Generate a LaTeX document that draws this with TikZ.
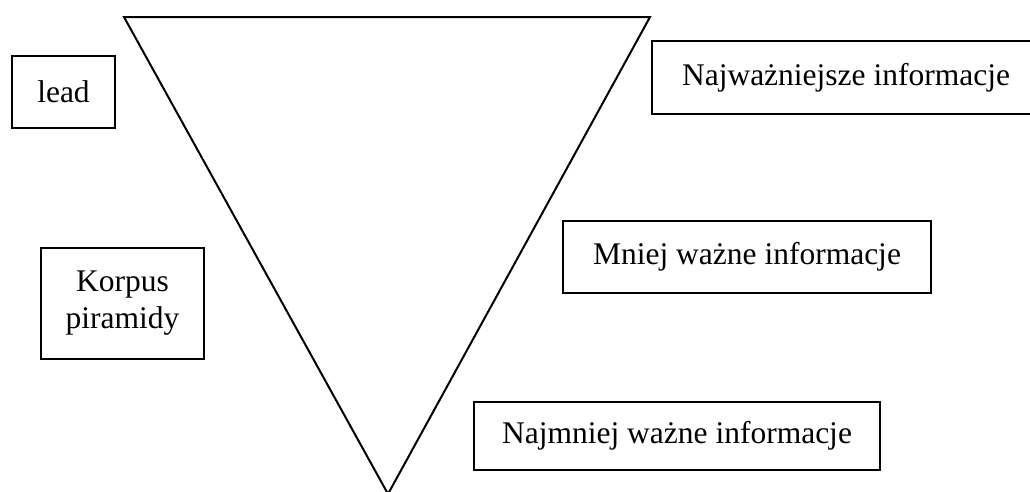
\documentclass[tikz,border=0pt]{standalone}
\usepackage{fontspec}
\setmainfont{Liberation Serif}
\begin{document}
\begin{tikzpicture}[x=1pt,y=-1pt,
  box/.style={draw=black,line width=1.8pt,rectangle,inner sep=0pt,align=center,
    font=\fontsize{31.5}{37}\selectfont},
  tri/.style={draw=black,line width=2pt,line join=miter}]
\useasboundingbox (0,0) rectangle (1030,491);
\coordinate (tl) at (124,17);
\coordinate (tr) at (650,17);
\coordinate (ap) at (388,494);
\draw[tri] (tl) -- (tr) -- (ap) -- cycle;
\begin{scope}
\clip (0,0) rectangle (1030,491);
\node[box,minimum width=103,minimum height=72] (lead) at (63.5,92) {lead};
\node[box,minimum width=388,minimum height=73] (top) at (846,77.5) {Najważniejsze informacje};
\node[box,minimum width=163,minimum height=111] (korpus) at (122.5,303.5) {Korpus\\piramidy};
\node[box,minimum width=368,minimum height=72] (mniej) at (747,257) {Mniej ważne informacje};
\node[box,minimum width=406,minimum height=68] (najmniej) at (677,436) {Najmniej ważne informacje};
\end{scope}
\end{tikzpicture}
\end{document}
